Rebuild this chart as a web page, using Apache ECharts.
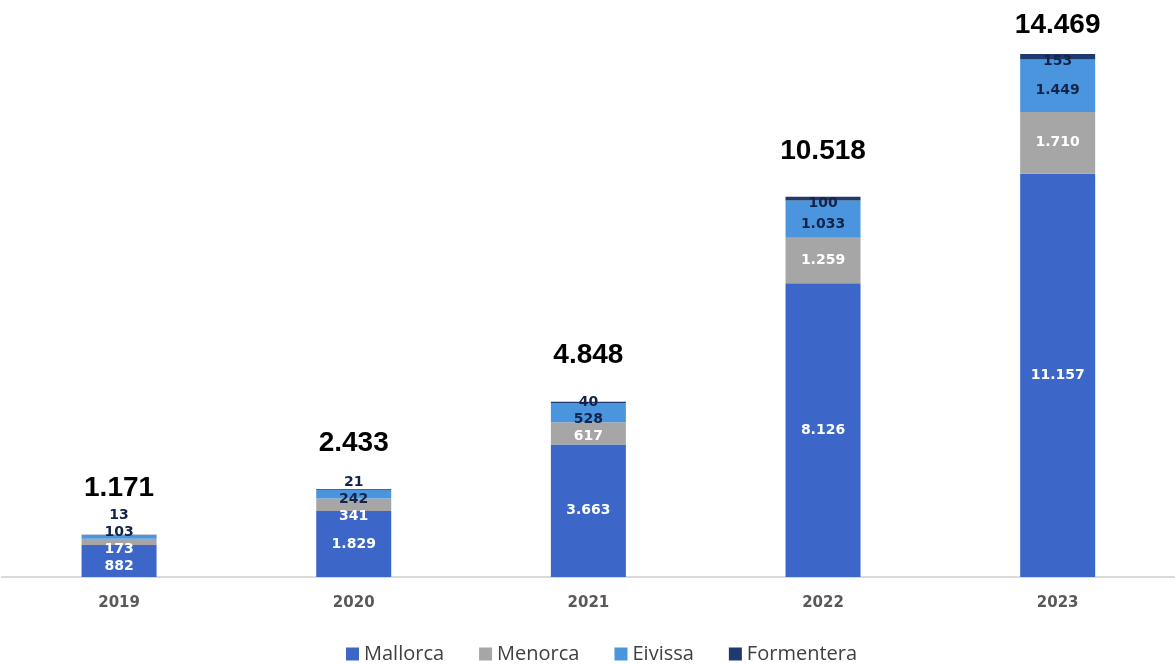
<!DOCTYPE html>
<html>
<head>
<meta charset="utf-8">
<script src="https://cdn.jsdelivr.net/npm/echarts@6/dist/echarts.min.js"></script>
<style>
html,body{margin:0;padding:0;background:#fff;}
#chart{width:1175px;height:664px;}
</style>
</head>
<body>
<div id="chart"></div>
<script>
const years = ['2019', '2020', '2021', '2022', '2023'];
const mallorca = [882, 1829, 3663, 8126, 11157];
const menorca = [173, 341, 617, 1259, 1710];
const eivissa = [103, 242, 528, 1033, 1449];
const formentera = [13, 21, 40, 100, 153];
const totals = [1171, 2433, 4848, 10518, 14469];
const seriesNames = ['Mallorca', 'Menorca', 'Eivissa', 'Formentera'];

const GRID_TOP = 34.8, GRID_BOTTOM = 87, Y_MAX = 15000;
const LABEL_GAP = 17;
const LABEL_BIAS = [0, 0, 5, 5];   // px nudge downward for the thin segments' labels
const LABEL_FLOOR = 11;            // lowest label centre stays this far above the baseline

const chart = echarts.init(document.getElementById('chart'), null, {renderer: 'canvas'});
const H = chart.getHeight();
const base = H - GRID_BOTTOM;
const scale = (H - GRID_TOP - GRID_BOTTOM) / Y_MAX;
const stacks = [mallorca, menorca, eivissa, formentera];

function fmt(v) { return String(v).replace(/\B(?=(\d{3})+(?!\d))/g, '.'); }

// label centres for one bar, spread so they do not overlap
function labelCentres(i) {
  let cum = 0;
  const ideals = stacks.map((arr, k) => {
    const c = base - (cum + arr[i] / 2) * scale + LABEL_BIAS[k];
    cum += arr[i];
    return c;
  });
  const clusters = [];
  ideals.forEach((y, k) => {
    clusters.push({idx: [k], sum: y});
    while (clusters.length > 1) {
      const a = clusters[clusters.length - 2], b = clusters[clusters.length - 1];
      const aTop = a.sum / a.idx.length - (a.idx.length - 1) / 2 * LABEL_GAP;
      const bBottom = b.sum / b.idx.length + (b.idx.length - 1) / 2 * LABEL_GAP;
      if (aTop - bBottom < LABEL_GAP) {
        clusters.pop(); clusters.pop();
        clusters.push({idx: a.idx.concat(b.idx), sum: a.sum + b.sum});
      } else break;
    }
  });
  const pos = [];
  clusters.forEach(c => {
    const n = c.idx.length, m = c.sum / n;
    c.idx.forEach((k, j) => { pos[k] = m + ((n - 1) / 2 - j) * LABEL_GAP; });
  });
  const over = pos[0] - (base - LABEL_FLOOR);
  if (over > 0) {
    const first = clusters[0];
    first.idx.forEach(k => { pos[k] -= over; });
  }
  return pos;
}

const colors = ['#3d66c9', '#a6a6a6', '#4b95de', '#1f3a6f'];
const labelColors = ['#ffffff', '#ffffff', '#13244a', '#13244a'];

const barSeries = stacks.map((arr, s) => ({
  name: seriesNames[s],
  type: 'bar',
  stack: 'total',
  barWidth: 75,
  data: arr,
  itemStyle: {color: colors[s]},
  label: {
    show: true,
    position: 'inside',
    formatter: p => fmt(p.value),
    color: labelColors[s],
    fontFamily: 'DejaVu Sans',
    fontWeight: 'bold',
    fontSize: 14
  },
  labelLayout: function (p) {
    const pos = labelCentres(p.dataIndex);
    return {x: p.rect.x + p.rect.width / 2, y: pos[s], align: 'center', verticalAlign: 'middle'};
  }
}));

const option = {
  backgroundColor: '#ffffff',
  animation: false,
  grid: {left: 1.75, right: -9.25, top: GRID_TOP, bottom: GRID_BOTTOM, containLabel: false},
  legend: {
    data: seriesNames,
    left: 341,
    top: 639,
    itemWidth: 13,
    itemHeight: 13,
    itemGap: 35,
    icon: 'rect',
    textStyle: {fontFamily: 'Open Sans', fontSize: 20, color: '#404040'}
  },
  xAxis: {
    type: 'category',
    data: years,
    axisLine: {show: true, lineStyle: {color: '#d9d9d9', width: 2}},
    axisTick: {show: false},
    axisLabel: {margin: 19, color: '#595959', fontFamily: 'DejaVu Sans', fontWeight: 'bold', fontSize: 15}
  },
  yAxis: {type: 'value', min: 0, max: Y_MAX, show: false, splitLine: {show: false}},
  series: barSeries.concat([{
    name: 'Total',
    type: 'scatter',
    data: totals,
    symbolSize: 1,
    silent: true,
    itemStyle: {color: 'rgba(0,0,0,0)'},
    label: {
      show: true,
      position: 'top',
      formatter: p => fmt(p.value),
      color: '#000000',
      opacity: 1,
      textBorderWidth: 0,
      fontFamily: 'Liberation Sans',
      fontWeight: 'bold',
      fontSize: 28
    },
    labelLayout: function (p) {
      const top = base - totals[p.dataIndex] * scale;
      return {x: p.rect.x + p.rect.width / 2, y: Math.max(top - 46, 25), align: 'center', verticalAlign: 'middle'};
    }
  }])
};
chart.setOption(option);
</script>
</body>
</html>
